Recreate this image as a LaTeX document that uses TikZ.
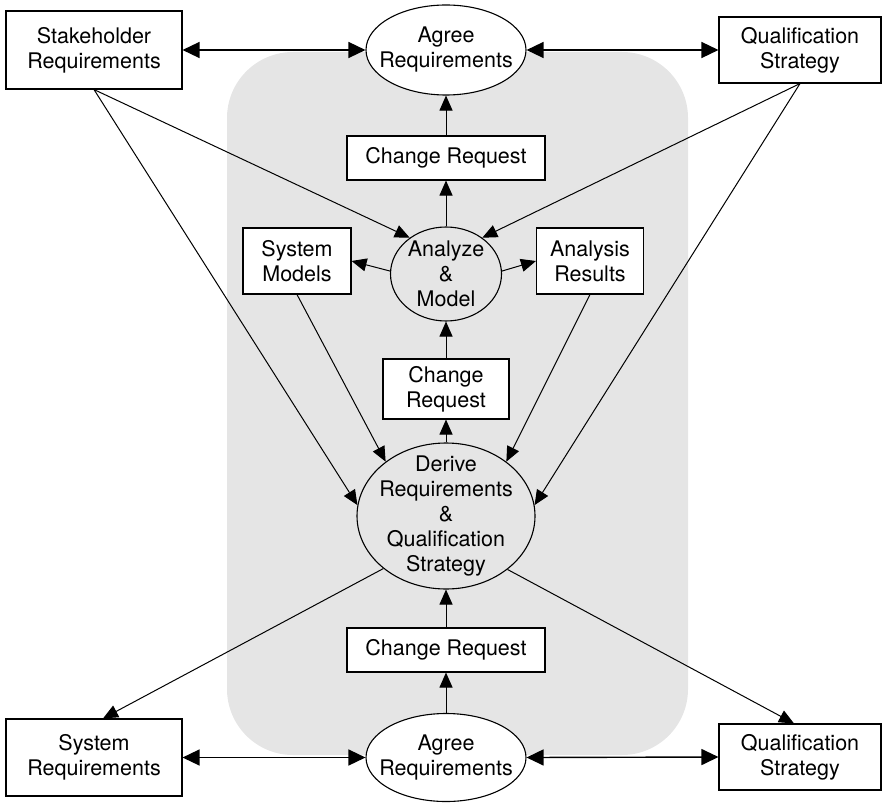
\documentclass[tikz,border=0pt]{standalone}
\usepackage{fontspec}
\setmainfont{TeX Gyre Heros}
\usetikzlibrary{shapes.geometric,arrows.meta}
\tikzset{
  txt/.style={align=center, font=\fontsize{21.5}{25}\selectfont, inner sep=0pt},
  box/.style={txt, draw, line width=1.1pt, fill=white, rectangle},
  ell/.style={draw, line width=1.1pt, ellipse, inner sep=0pt},
  conn/.style={line width=1pt, -{Triangle[length=15pt,width=13pt]}},
  dbl/.style={line width=1.4pt, {Triangle[length=17pt,width=16pt]}-{Triangle[length=17pt,width=16pt]}}
}
\begin{document}
\begin{tikzpicture}[x=1pt,y=-1pt]
\useasboundingbox (0,0) rectangle (882,802);
\fill[black!10, rounded corners=66pt] (227,52) rectangle (688,755);

\node[box, minimum width=176pt, minimum height=78pt] (stake) at (94,50) {Stakeholder\\Requirements};
\node[ell, fill=white, minimum width=160pt, minimum height=90pt] (agt) at (446,50) {};
\node[txt] (agttext) at (agt) {Agree\\Requirements};
\node[box, minimum width=162pt, minimum height=66pt] (qualt) at (800,50) {Qualification\\Strategy};
\node[box, minimum width=198pt, minimum height=44pt] (crt) at (446,158) {Change Request};
\node[ell, minimum width=111pt, minimum height=94pt] (an) at (446,274) {};
\node[txt] (antext) at (an) {Analyze\\\&\\Model};
\node[box, minimum width=108pt, minimum height=66pt] (sm) at (297,261) {System\\Models};
\node[box, minimum width=107pt, minimum height=66pt] (ar) at (590,261) {Analysis\\Results};
\node[box, minimum width=126pt, minimum height=60pt] (crm) at (446,389) {Change\\Request};
\node[ell, minimum width=178pt, minimum height=146pt] (der) at (446,516) {};
\node[txt] (dertext) at (der) {Derive\\Requirements\\\&\\Qualification\\Strategy};
\node[box, minimum width=198pt, minimum height=44pt] (crb) at (446,650) {Change Request};
\node[ell, fill=white, minimum width=160pt, minimum height=88pt] (agb) at (446,757.5) {};
\node[txt] (agbtext) at (agb) {Agree\\Requirements};
\node[box, minimum width=176pt, minimum height=77pt] (sysreq) at (94,757.5) {System\\Requirements};
\node[box, minimum width=162pt, minimum height=66pt] (qualb) at (800,757) {Qualification\\Strategy};

% horizontal double arrows
\draw[dbl] (stake.east) -- (agt.west);
\draw[dbl] (agt.east) -- (qualt.west);
\draw[dbl] (sysreq.east) -- (agb.west);
\draw[dbl] (agb.east) -- (qualb.west);

% vertical chain
\draw[conn] (crt) -- (agt);
\draw[conn] (an) -- (crt);
\draw[conn] (crm) -- (an);
\draw[conn] (der) -- (crm);
\draw[conn] (crb) -- (der);
\draw[conn] (agb) -- (crb);

% analyze outputs
\draw[conn] (an.177) -- (sm.east);
\draw[conn] (an.3) -- (ar.west);
\draw[conn] (sm.south) -- (der.138);
\draw[conn] (ar.south) -- (der.42);

% stakeholder / qualification inputs
\draw[conn] (stake.south) -- (an.135);
\draw[conn] (stake.south) -- (der.173);
\draw[conn] (qualt.south) -- (an.45);
\draw[conn] (qualt.south) -- (der.7);

% derive outputs
\draw[conn] (der.220) -- ([xshift=9pt]sysreq.north);
\draw[conn] (der.-41) -- ([xshift=-6pt]qualb.north);
\end{tikzpicture}
\end{document}
